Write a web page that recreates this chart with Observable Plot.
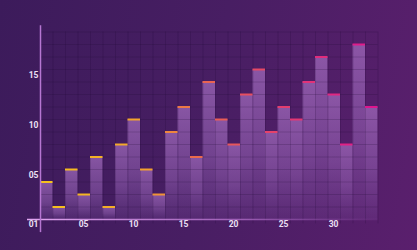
<!DOCTYPE html>
<html><head><meta charset="utf-8">
<script src="https://cdn.jsdelivr.net/npm/d3@7"></script>
<script src="https://cdn.jsdelivr.net/npm/@observablehq/plot@0.6"></script>
<style>
html,body{margin:0;padding:0;}
body{width:417px;height:250px;overflow:hidden;background:linear-gradient(100deg,#3c1b5b 0%,#481e63 50%,#5a1f6d 100%);}
#chart svg{display:block;}
</style></head><body><div id="chart"></div>
<script>
// data
const bars = d3.range(1, 28);
const values = [3,1,4,2,5,1,6,8,4,2,7,9,5,11,8,6,10,12,7,9,8,11,13,10,6,14,9];
const xTickLabels = ["01","05","10","15","20","25","30"];
const xTickPos = [0,4,8,12,16,20,24];
const yTickLabels = ["05","10","15"];
const yTickPos = [4,8,12];

const data = bars.map((b, i) => ({i, b, v: values[i]}));
const capColor = d3.scaleLinear()
  .domain([0, 8, 12, 18, 26])
  .range(["#f6c21c", "#f2a02e", "#ea6a4c", "#e4426a", "#de168e"]);

const defs = () => {
  const d = d3.create("svg:defs");
  const g = d.append("linearGradient").attr("id","barGrad").attr("x1",0).attr("y1",0).attr("x2",0).attr("y2",1);
  g.append("stop").attr("offset","0%").attr("stop-color","#a46ec0").attr("stop-opacity",0.7);
  g.append("stop").attr("offset","55%").attr("stop-color","#9a66ba").attr("stop-opacity",0.5);
  g.append("stop").attr("offset","100%").attr("stop-color","#8a5ab0").attr("stop-opacity",0.18);
  const a = d.append("linearGradient").attr("id","axGrad").attr("gradientUnits","userSpaceOnUse")
    .attr("x1",27).attr("y1",0).attr("x2",380).attr("y2",0);
  a.append("stop").attr("offset","0%").attr("stop-color","#e2a6f2").attr("stop-opacity",1);
  a.append("stop").attr("offset","60%").attr("stop-color","#c07ad8").attr("stop-opacity",0.7);
  a.append("stop").attr("offset","100%").attr("stop-color","#a060c0").attr("stop-opacity",0.15);
  return d.node();
};

const chart = Plot.plot({
  width: 417,
  height: 250,
  marginLeft: 40,
  marginRight: 39.5,
  marginTop: 31.5,
  marginBottom: 31,
  x: {axis: null, domain: [0, 27]},
  y: {axis: null, domain: [0, 15]},
  style: {background: "transparent", overflow: "visible"},
  marks: [
    defs,
    Plot.rect(data, {x1: "i", x2: d => d.i + 1, y1: 0, y2: "v", fill: "url(#barGrad)"}),
    Plot.ruleY(d3.range(1, 16), {x1: 0, x2: 27, stroke: "#1c0833", strokeOpacity: 0.2, strokeWidth: 1}),
    Plot.ruleX(d3.range(1, 28), {y1: -0.35, y2: 15, stroke: "#1c0833", strokeOpacity: 0.18, strokeWidth: 1}),
    Plot.ruleY(data, {x1: "i", x2: d => d.i + 1, y: "v", stroke: d => capColor(d.i), strokeWidth: 2}),
    Plot.ruleY([0], {x1: -1.04, x2: 27, stroke: "url(#axGrad)", strokeWidth: 1.5}),
    Plot.ruleX([0], {y1: -1.05, y2: 15.5, stroke: "#b676d2", strokeWidth: 1.5}),
    Plot.text(xTickPos, {x: d => d, y: 0, text: (d, i) => xTickLabels[i], dx: -7, dy: 5, lineAnchor: "middle", textAnchor: "middle", fill: "#ece0f4", fontSize: 8.5, fontWeight: "bold", fontFamily: "Roboto"}),
    Plot.text(yTickPos, {x: 0, y: d => d, text: (d, i) => yTickLabels[i], dx: -2, dy: 6, lineAnchor: "middle", textAnchor: "end", fill: "#ece0f4", fontSize: 8.5, fontWeight: "bold", fontFamily: "Roboto"})
  ]
});
document.getElementById("chart").append(chart);
</script></body></html>
